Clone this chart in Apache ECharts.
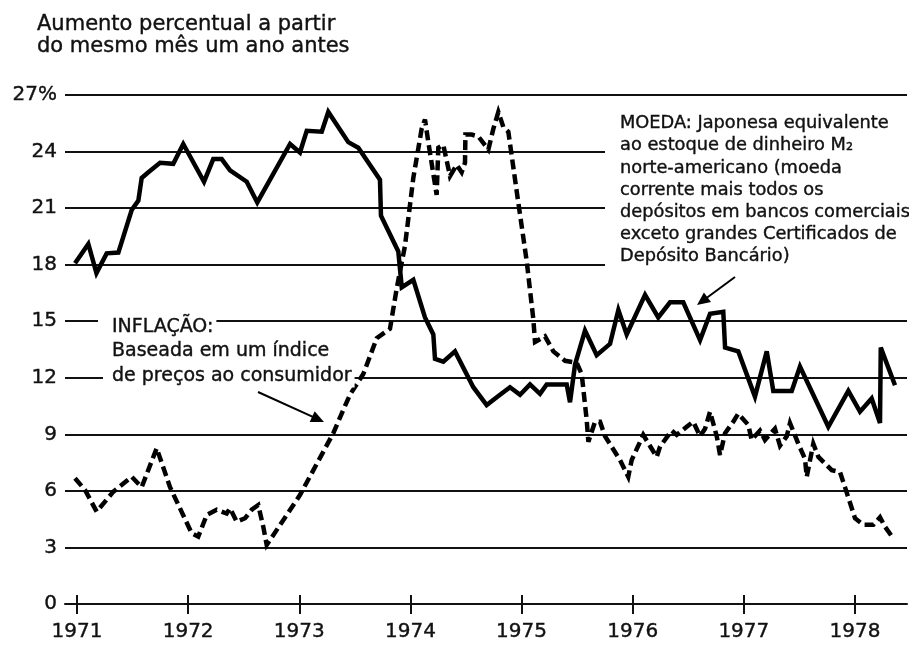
<!DOCTYPE html>
<html><head><meta charset="utf-8">
<script src="https://cdn.jsdelivr.net/npm/echarts@6/dist/echarts.min.js"></script>
<style>html,body{margin:0;padding:0;background:#fff}#c{width:909px;height:645px}</style>
</head><body><div id="c"></div>
<script>
// ---- data ----
const years = [1971, 1972, 1973, 1974, 1975, 1976, 1977, 1978];
const yTicks = [0, 3, 6, 9, 12, 15, 18, 21, 24, 27];
const titleLines = ['Aumento percentual a partir', 'do mesmo mês um ano antes'];
const inflLabel = ['INFLAÇÃO:', 'Baseada em um índice', 'de preços ao consumidor'];
const moedaLabel = ['MOEDA: Japonesa equivalente', 'ao estoque de dinheiro M₂', 'norte-americano (moeda', 'corrente mais todos os', 'depósitos em bancos comerciais', 'exceto grandes Certificados de', 'Depósito Bancário)'];

// MOEDA (solid line): time in years, value in %
const moedaT = [1970.982,1971.102,1971.175,1971.267,1971.372,1971.492,1971.552,1971.582,1971.642,1971.747,1971.866,1971.956,1972.143,1972.226,1972.302,1972.377,1972.527,1972.622,1972.917,1973.006,1973.067,1973.202,1973.261,1973.441,1973.531,1973.726,1973.735,1973.891,1973.922,1974.026,1974.131,1974.206,1974.221,1974.296,1974.401,1974.566,1974.686,1974.806,1974.896,1974.986,1975.076,1975.166,1975.226,1975.406,1975.436,1975.481,1975.571,1975.676,1975.796,1975.871,1975.946,1976.111,1976.230,1976.336,1976.455,1976.606,1976.696,1976.815,1976.831,1976.950,1977.100,1977.206,1977.265,1977.431,1977.505,1977.760,1977.940,1978.045,1978.150,1978.225,1978.232,1978.360];
const moedaV = [18.07,19.1,17.55,18.6,18.64,20.9,21.4,22.6,22.9,23.4,23.35,24.4,22.4,23.6,23.6,23.0,22.4,21.3,24.4,23.95,25.1,25.05,26.1,24.5,24.2,22.5,20.6,18.7,16.8,17.2,15.2,14.3,13.0,12.85,13.4,11.5,10.55,11.1,11.5,11.1,11.65,11.15,11.65,11.65,10.7,12.7,14.5,13.2,13.8,15.6,14.3,16.4,15.2,16.0,16.0,14.0,15.4,15.5,13.6,13.4,11.0,13.4,11.3,11.3,12.6,9.4,11.3,10.2,10.9,9.6,13.6,11.6];

// INFLAÇÃO (dashed line)
const inflT = [1970.982,1971.072,1971.177,1971.327,1971.492,1971.582,1971.717,1971.837,1972.032,1972.091,1972.167,1972.257,1972.347,1972.377,1972.437,1972.512,1972.572,1972.631,1972.676,1972.707,1973.006,1973.306,1973.396,1973.456,1973.576,1973.697,1973.816,1973.877,1973.951,1974.026,1974.101,1974.131,1974.161,1974.236,1974.251,1974.296,1974.327,1974.356,1974.416,1974.461,1974.491,1974.495,1974.551,1974.611,1974.701,1974.746,1974.791,1974.836,1974.881,1974.956,1975.046,1975.106,1975.121,1975.211,1975.286,1975.391,1975.496,1975.541,1975.586,1975.601,1975.661,1975.706,1975.751,1975.886,1975.960,1975.991,1976.095,1976.216,1976.246,1976.351,1976.396,1976.486,1976.545,1976.606,1976.651,1976.696,1976.756,1976.786,1976.831,1976.905,1976.950,1977.040,1977.070,1977.145,1977.190,1977.280,1977.325,1977.386,1977.415,1977.490,1977.550,1977.566,1977.625,1977.671,1977.791,1977.865,1977.910,1978.000,1978.075,1978.165,1978.225,1978.270,1978.342];
const inflV = [6.67,6.05,4.9,5.96,6.75,6.2,8.26,6.2,3.75,3.57,4.72,5.0,4.8,5.08,4.37,4.55,5.0,5.25,4.1,3.13,5.78,9.06,10.3,11.1,12.2,14.1,14.6,16.75,19.0,22.6,25.2,25.7,24.5,21.7,24.2,24.35,23.5,22.7,23.3,22.9,23.4,24.9,24.9,24.8,24.1,25.2,26.1,25.3,25.05,21.9,18.2,15.1,13.9,14.2,13.4,12.9,12.8,12.2,9.76,8.6,9.67,9.67,8.9,7.64,6.75,7.64,8.97,7.8,8.35,9.2,8.97,9.4,9.67,8.9,9.3,10.2,8.9,7.9,9.06,9.67,10.1,9.5,8.7,9.2,8.7,9.3,8.4,8.9,9.6,8.5,7.7,6.75,8.5,7.8,7.1,7.0,6.2,4.55,4.2,4.2,4.6,4.1,3.5];

// ---- chart ----
const FONT = '"DejaVu Sans", Verdana, sans-serif';
const INK = '#111';
const GRID = '#111';
const chart = echarts.init(document.getElementById('c'), null, {renderer: 'canvas'});

function arrow(x1, y1, x2, y2) {
  const dx = x2 - x1, dy = y2 - y1, L = Math.hypot(dx, dy);
  const ux = dx / L, uy = dy / L, hl = 13, hw = 6;
  const bx = x2 - ux * hl, by = y2 - uy * hl;
  return [
    {type: 'line', z: 6, shape: {x1, y1, x2: bx + ux * 2, y2: by + uy * 2}, style: {stroke: '#000', lineWidth: 2}},
    {type: 'polygon', z: 6, shape: {points: [[x2, y2], [bx - uy * hw, by + ux * hw], [bx + uy * hw, by - ux * hw]]}, style: {fill: '#000'}}
  ];
}
const txtStroke = {stroke: INK, lineWidth: 0.4};

const graphics = [];
titleLines.forEach((t, i) => graphics.push({
  type: 'text', z: 6, x: 37, y: 25 + i * 22,
  style: Object.assign({text: t, font: '21px ' + FONT, fill: INK, verticalAlign: 'middle'}, txtStroke)
}));
inflLabel.forEach((t, i) => {
  const padL = i === 0 ? 14 : 9;
  graphics.push({
    type: 'text', z: 6, x: 112 - padL, y: 327 + i * 24.5,
    style: Object.assign({text: t, font: '19px ' + FONT, fill: INK, verticalAlign: 'middle',
      backgroundColor: '#fff', padding: [2, 3, 2, padL]}, txtStroke)
  });
});
graphics.push({type: 'rect', z: 1, shape: {x: 605, y: 110, width: 304, height: 159}, style: {fill: '#fff'}});
moedaLabel.forEach((t, i) => graphics.push({
  type: 'text', z: 6, x: 620, y: 123.5 + i * 22.2,
  style: Object.assign({text: t, font: '17.8px ' + FONT, fill: INK, verticalAlign: 'middle'}, txtStroke)
}));
graphics.push(...arrow(258, 392, 324, 422));
graphics.push(...arrow(735, 277, 697, 305));

const xMin = 1970.892, xMax = 1978.468;
const baseX = {
  type: 'value', min: xMin, max: xMax, position: 'bottom',
  splitLine: {show: false}
};
const lblStyle = {fontSize: 20, fontFamily: FONT, color: INK, textBorderColor: INK, textBorderWidth: 0.4};

chart.setOption({
  animation: false,
  backgroundColor: '#fff',
  grid: {left: 65, right: 2, top: 95, bottom: 41, containLabel: false, outerBoundsMode: 'none'},
  xAxis: [
    Object.assign({}, baseX, {
      axisLine: {show: true, onZero: false, lineStyle: {color: GRID, width: 2}},
      axisTick: {show: true, inside: false, length: 10, customValues: years, lineStyle: {color: GRID, width: 2}},
      axisLabel: Object.assign({show: true, customValues: years, margin: 18,
        formatter: v => String(Math.round(v))}, lblStyle)
    }),
    Object.assign({}, baseX, {
      axisLine: {show: false},
      axisTick: {show: true, inside: true, length: 9, customValues: years, lineStyle: {color: GRID, width: 2}},
      axisLabel: {show: false}
    })
  ],
  yAxis: {
    type: 'value', min: yTicks[0], max: yTicks[yTicks.length - 1], interval: yTicks[1] - yTicks[0],
    axisLine: {show: false}, axisTick: {show: false},
    axisLabel: Object.assign({margin: 8,
      formatter: v => v === yTicks[yTicks.length - 1] ? v + '%' : String(v)}, lblStyle),
    splitLine: {show: true, lineStyle: {color: GRID, width: 2}}
  },
  series: [
    {
      name: 'MOEDA', type: 'line', xAxisIndex: 0, showSymbol: false, z: 3,
      data: moedaT.map((t, i) => [t, moedaV[i]]),
      lineStyle: {color: '#000', width: 4.5, join: 'miter', miterLimit: 4}
    },
    {
      name: 'INFLAÇÃO', type: 'line', xAxisIndex: 0, showSymbol: false, z: 3,
      data: inflT.map((t, i) => [t, inflV[i]]),
      lineStyle: {color: '#000', width: 4.5, type: [10, 5], join: 'miter', miterLimit: 4}
    }
  ],
  graphic: graphics
});
</script></body></html>
